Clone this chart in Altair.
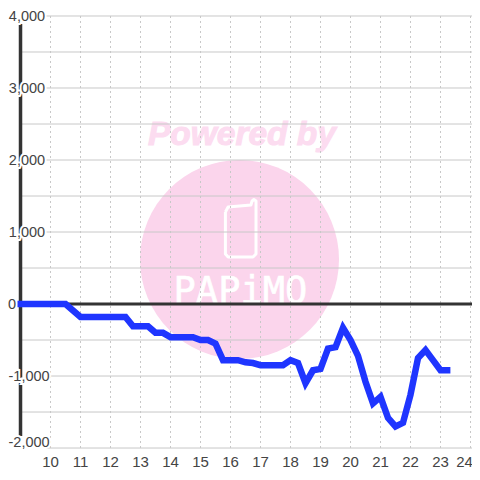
import altair as alt
import pandas as pd

hours = [8.9,9.25,9.5,9.75,10,10.25,10.5,10.75,11,11.25,11.5,11.75,12,12.25,12.5,12.75,13,13.25,13.5,13.75,14,14.25,14.5,14.75,15,15.25,15.5,15.75,16,16.25,16.5,16.75,17,17.25,17.5,17.75,18,18.25,18.5,18.75,19,19.25,19.5,19.75,20,20.25,20.5,20.75,21,21.25,21.5,21.75,22,22.25,22.5,22.75,23,23.33]
values = [0,0,0,0,0,0,0,-90,-180,-180,-180,-180,-180,-180,-180,-310,-310,-310,-400,-400,-460,-460,-460,-460,-500,-500,-550,-780,-780,-780,-810,-820,-850,-850,-850,-850,-780,-820,-1100,-920,-900,-620,-600,-330,-500,-720,-1080,-1380,-1290,-1580,-1700,-1650,-1260,-750,-640,-780,-920,-920]
x_ticks = list(range(10, 25))
x_label_pos = [10,11,12,13,14,15,16,17,18,19,20,21,22,23,23.8]
y_major = [4000, 3000, 2000, 1000, -1000, -2000]
y_minor = [3500, 2500, 1500, 500, -500, -1500]
y_labels = [4000, 3000, 2000, 1000, 0, -1000, -2000]
label_pos = [4000, 3000, 2000, 1000, 0, -1000, -1912]
label_right = [9.82, 9.82, 9.82, 9.82, 8.85, 9.97, 9.97]
phone_x = [15.83,15.92,16.68,16.72,16.78,16.85,16.85,16.75,15.92,15.83,15.83]
phone_y = [1278,1347,1375,1431,1451,1431,694,653,653,694,1278]

X = alt.Scale(domain=[8.583, 24.05], nice=False, zero=False)
Y = alt.Scale(domain=[-2333, 4111], nice=False, zero=False)
GRID = "#c8c8c8"
PINK = "#fbd5ec"
FONT = "Liberation Sans"
TXT = "#444444"
DARK = "#333333"

def x_(v): return alt.X(datum=v, scale=X, axis=None)
def y_(v): return alt.Y(datum=v, scale=Y, axis=None)

base = alt.Chart(pd.DataFrame({"a": [0]}))

circle = base.mark_point(filled=True, color=PINK, opacity=1, size=39600, shape="circle").encode(x=x_(16.3), y=y_(618))
powered = base.mark_text(text="Powered by", font=FONT, fontSize=33.5, fontWeight="bold", fontStyle="italic",
                         color="#fcdcf0", stroke="#fcdcf0", strokeWidth=1).encode(x=x_(16.38), y=y_(2345))
brand = base.mark_text(text="PAPiMO", font="DejaVu Sans Mono", fontSize=37, color="white", stroke="white", strokeWidth=0.6).encode(x=x_(16.33), y=y_(170))
phone = alt.Chart(pd.DataFrame({"px": phone_x, "py": phone_y, "o": range(len(phone_x))})).mark_line(
    color="white", strokeWidth=3, strokeJoin="round").encode(
    x=alt.X("px:Q", scale=X, axis=None), y=alt.Y("py:Q", scale=Y, axis=None), order="o:Q")

major = alt.Chart(pd.DataFrame({"y": y_major})).mark_rule(color=GRID, strokeWidth=1).encode(
    y=alt.Y("y:Q", scale=Y, axis=None), x=x_(9.85), x2=alt.X2(datum=24.05))
minor = alt.Chart(pd.DataFrame({"y": y_minor})).mark_rule(color=GRID, strokeWidth=1).encode(
    y=alt.Y("y:Q", scale=Y, axis=None), x=x_(9), x2=alt.X2(datum=24.05))
vgrid = alt.Chart(pd.DataFrame({"x": x_ticks})).mark_rule(color=GRID, strokeWidth=1, strokeDash=[2, 3]).encode(
    x=alt.X("x:Q", scale=X, axis=None), y=y_(4000), y2=alt.Y2(datum=-2000))
xlab = alt.Chart(pd.DataFrame({"p": x_label_pos, "t": [str(v) for v in x_ticks]})).mark_text(font=FONT, fontSize=15, color=TXT, dy=1).encode(
    x=alt.X("p:Q", scale=X, axis=None), y=y_(-2180), text="t:N")

zero = base.mark_rule(color=DARK, strokeWidth=3).encode(y=y_(0), x=x_(9), x2=alt.X2(datum=24.05))
yaxis = base.mark_rule(color=DARK, strokeWidth=3.5).encode(x=x_(9), y=y_(3890), y2=alt.Y2(datum=-1833))

ldf = pd.DataFrame({"p": label_pos, "r": label_right, "t": [f"{v:,}" for v in y_labels]})
halo = alt.Chart(ldf).mark_text(font=FONT, fontSize=14.5, align="right", color="white", stroke="white", strokeWidth=4, dy=1).encode(
    x=alt.X("r:Q", scale=X, axis=None), y=alt.Y("p:Q", scale=Y, axis=None), text="t:N")
ylab = alt.Chart(ldf).mark_text(font=FONT, fontSize=14.5, align="right", color=TXT, dy=1).encode(
    x=alt.X("r:Q", scale=X, axis=None), y=alt.Y("p:Q", scale=Y, axis=None), text="t:N")

line = alt.Chart(pd.DataFrame({"h": hours, "v": values})).mark_line(color="#1f35ff", strokeWidth=6.5, strokeJoin="miter").encode(
    x=alt.X("h:Q", scale=X, axis=None), y=alt.Y("v:Q", scale=Y, axis=None))

chart = alt.layer(circle, powered, phone, brand, major, minor, vgrid, zero, yaxis, halo, ylab, xlab, line).properties(
    width=464, height=464, padding=0, autosize=alt.AutoSizeParams(type="none"), background="white"
).configure_view(stroke=None)

chart.save("out.html", embed_options={"renderer": "svg", "actions": False})
